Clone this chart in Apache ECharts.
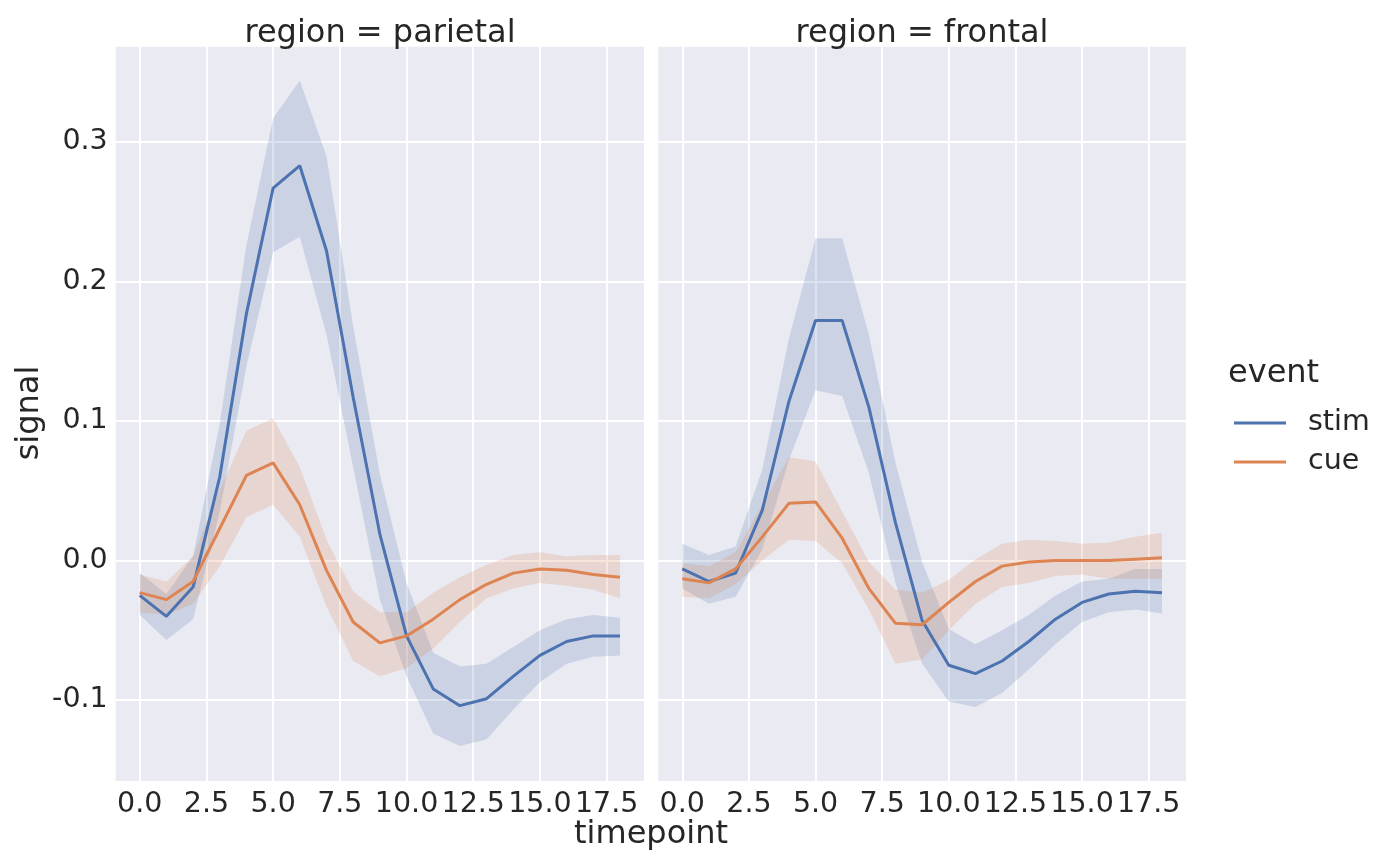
<!DOCTYPE html>
<html lang="en">
  <head>
    <meta charset="UTF-8" />
    <title>fmri signal by region</title>
    <script src="https://cdn.jsdelivr.net/npm/echarts@6.0.0/dist/echarts.min.js"></script>
    <style>
      body {
        margin: 0;
        padding: 0;
        background: #ffffff;
      }
      #chart {
        width: 1400px;
        height: 866px;
      }
    </style>
  </head>
  <body>
    <div id="chart"></div>

    <script>
      // timepoints 0..18
      var timepoints = [0, 1, 2, 3, 4, 5, 6, 7, 8, 9, 10, 11, 12, 13, 14, 15, 16, 17, 18];
      var xTicks = [0, 2.5, 5, 7.5, 10, 12.5, 15, 17.5];
      var yTicks = [-0.1, 0, 0.1, 0.2, 0.3];

      // parietal
      var parStim = [-0.025, -0.040, -0.019, 0.060, 0.177, 0.267, 0.283, 0.222, 0.117, 0.019, -0.054, -0.092, -0.104, -0.099, -0.083, -0.068, -0.058, -0.054, -0.054];
      var parStimLo = [-0.039, -0.057, -0.042, 0.035, 0.139, 0.221, 0.232, 0.162, 0.067, -0.028, -0.083, -0.124, -0.133, -0.128, -0.107, -0.087, -0.074, -0.069, -0.068];
      var parStimHi = [-0.009, -0.024, 0.003, 0.098, 0.226, 0.317, 0.344, 0.290, 0.168, 0.062, -0.016, -0.066, -0.076, -0.074, -0.062, -0.050, -0.042, -0.039, -0.041];
      var parCue = [-0.023, -0.028, -0.015, 0.023, 0.061, 0.070, 0.040, -0.007, -0.044, -0.059, -0.054, -0.042, -0.028, -0.017, -0.009, -0.006, -0.007, -0.010, -0.012];
      var parCueLo = [-0.037, -0.039, -0.031, -0.004, 0.031, 0.040, 0.017, -0.033, -0.072, -0.083, -0.077, -0.063, -0.044, -0.027, -0.020, -0.016, -0.018, -0.021, -0.027];
      var parCueHi = [-0.010, -0.015, 0.003, 0.051, 0.093, 0.102, 0.067, 0.015, -0.022, -0.037, -0.037, -0.023, -0.012, -0.003, 0.004, 0.006, 0.003, 0.004, 0.004];

      // frontal
      var froStim = [-0.006, -0.015, -0.009, 0.036, 0.114, 0.172, 0.172, 0.110, 0.027, -0.043, -0.075, -0.081, -0.072, -0.058, -0.042, -0.030, -0.024, -0.022, -0.023];
      var froStimLo = [-0.020, -0.031, -0.026, 0.008, 0.072, 0.122, 0.118, 0.063, -0.016, -0.074, -0.101, -0.105, -0.095, -0.078, -0.060, -0.044, -0.037, -0.035, -0.038];
      var froStimHi = [0.012, 0.004, 0.010, 0.065, 0.159, 0.231, 0.231, 0.162, 0.070, -0.001, -0.049, -0.060, -0.050, -0.039, -0.025, -0.015, -0.013, -0.006, -0.006];
      var froCue = [-0.013, -0.016, -0.006, 0.017, 0.041, 0.042, 0.016, -0.020, -0.045, -0.046, -0.030, -0.015, -0.004, -0.001, 0.000, 0.000, 0.000, 0.001, 0.002];
      var froCueLo = [-0.026, -0.027, -0.017, 0.000, 0.015, 0.014, -0.002, -0.035, -0.074, -0.071, -0.050, -0.031, -0.019, -0.016, -0.011, -0.010, -0.013, -0.013, -0.013];
      var froCueHi = [-0.002, -0.004, 0.006, 0.040, 0.074, 0.071, 0.035, -0.001, -0.021, -0.023, -0.014, 0.001, 0.012, 0.015, 0.014, 0.012, 0.013, 0.017, 0.020];

      var BLUE = '#4c72b0';
      var ORANGE = '#dd8452';
      var TEXT = '#262626';
      var FONT = 'DejaVu Sans';

      function pairs(vals) {
        return timepoints.map(function (t, i) { return [t, vals[i]]; });
      }

      // ci band drawn as one polygon: hi forwards, lo backwards
      function band(idx, lo, hi, color) {
        return {
          type: 'custom', xAxisIndex: idx, yAxisIndex: idx, silent: true, z: 1,
          data: [[0, 0]],
          renderItem: function (params, api) {
            var pts = [];
            for (var i = 0; i < timepoints.length; i++) {
              pts.push(api.coord([timepoints[i], hi[i]]));
            }
            for (var j = timepoints.length - 1; j >= 0; j--) {
              pts.push(api.coord([timepoints[j], lo[j]]));
            }
            return {
              type: 'polygon',
              shape: { points: pts },
              style: { fill: color, opacity: 0.2 }
            };
          }
        };
      }
      function mean(idx, name, vals, color) {
        return {
          type: 'line', name: name, xAxisIndex: idx, yAxisIndex: idx,
          data: pairs(vals), symbol: 'none',
          lineStyle: { color: color, width: 3 }, itemStyle: { color: color }, z: 3
        };
      }

      function xAxis(idx) {
        return {
          type: 'value', gridIndex: idx, min: -0.9, max: 18.9,
          axisLine: { show: false },
          axisTick: { show: false, customValues: xTicks },
          axisLabel: {
            customValues: xTicks, color: TEXT, fontFamily: FONT, fontSize: 28.5, margin: 9,
            formatter: function (v) { return v.toFixed(1); }
          },
          splitLine: { show: true, lineStyle: { color: '#ffffff', width: 2 } }
        };
      }
      function yAxis(idx, labels) {
        return {
          type: 'value', gridIndex: idx, min: -0.158, max: 0.3683,
          axisLine: { show: false },
          axisTick: { show: false, customValues: yTicks },
          axisLabel: {
            show: labels, customValues: yTicks, color: TEXT, fontFamily: FONT, fontSize: 28.5, margin: 8,
            formatter: function (v) { return v.toFixed(1); }
          },
          splitLine: { show: true, lineStyle: { color: '#ffffff', width: 2 } }
        };
      }

      var chart = echarts.init(document.getElementById('chart'));
      var option = {
        animation: false,
        backgroundColor: '#ffffff',
        textStyle: { fontFamily: FONT },
        title: [
          { text: 'region = parietal', left: 380, top: 18, textAlign: 'center', padding: 0,
            textStyle: { color: TEXT, fontFamily: FONT, fontSize: 32, fontWeight: 'normal' } },
          { text: 'region = frontal', left: 922, top: 18, textAlign: 'center', padding: 0,
            textStyle: { color: TEXT, fontFamily: FONT, fontSize: 32, fontWeight: 'normal' } },
          { text: 'timepoint', left: 651, top: 819, textAlign: 'center', padding: 0,
            textStyle: { color: TEXT, fontFamily: FONT, fontSize: 32, fontWeight: 'normal' } },
          { text: 'event', left: 1228, top: 358, padding: 0,
            textStyle: { color: TEXT, fontFamily: FONT, fontSize: 32, fontWeight: 'normal' } }
        ],
        graphic: [
          {
            type: 'text', x: 30, y: 413, rotation: Math.PI / 2,
            style: { text: 'signal', fill: TEXT, font: '32px "DejaVu Sans"', align: 'center', verticalAlign: 'middle' }
          }
        ],
        legend: {
          data: ['stim', 'cue'], orient: 'vertical', left: 1229, top: 403,
          icon: 'rect', itemWidth: 52, itemHeight: 3, itemGap: 9,
          textStyle: { color: TEXT, fontFamily: FONT, fontSize: 28.5, lineHeight: 30, padding: [0, 0, 0, 17] }
        },
        grid: [
          { left: 115.7, top: 46.7, width: 528.3, height: 734.3, show: true, backgroundColor: '#eaeaf2', borderWidth: 0 },
          { left: 658.3, top: 46.7, width: 527.7, height: 734.3, show: true, backgroundColor: '#eaeaf2', borderWidth: 0 }
        ],
        xAxis: [xAxis(0), xAxis(1)],
        yAxis: [yAxis(0, true), yAxis(1, false)],
        series: [
          band(0, parStimLo, parStimHi, BLUE),
          band(0, parCueLo, parCueHi, ORANGE),
          mean(0, 'stim', parStim, BLUE),
          mean(0, 'cue', parCue, ORANGE),
          band(1, froStimLo, froStimHi, BLUE),
          band(1, froCueLo, froCueHi, ORANGE),
          mean(1, 'stim', froStim, BLUE),
          mean(1, 'cue', froCue, ORANGE)
        ]
      };
      chart.setOption(option);
    </script>
  </body>
</html>
